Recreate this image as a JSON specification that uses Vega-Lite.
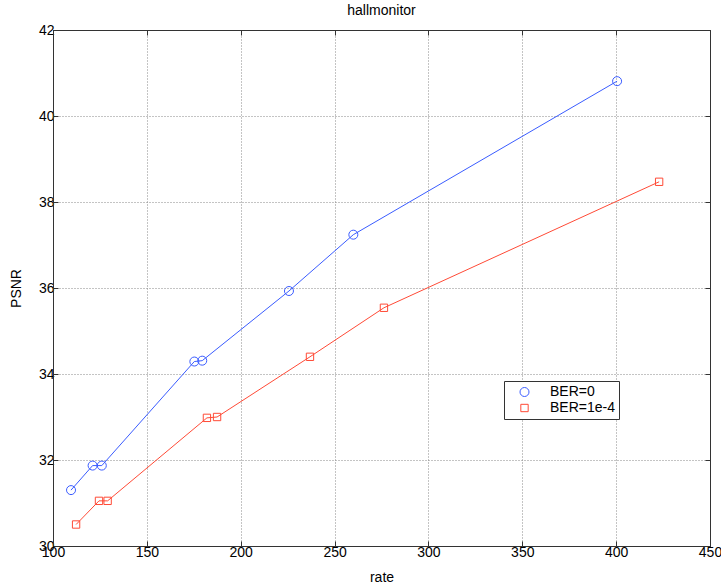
{
  "$schema": "https://vega.github.io/schema/vega-lite/v6.json",
  "width": 657,
  "height": 516,
  "autosize": {"type": "none"},
  "padding": {"left": 53, "top": 30, "right": 11, "bottom": 42},
  "background": "white",
  "title": {
    "text": "hallmonitor",
    "font": "Liberation Sans",
    "fontSize": 14,
    "fontWeight": "normal",
    "color": "#000000",
    "anchor": "middle",
    "offset": 5
  },
  "data": {
    "values": [
      {"series": "BER=0", "rate": 109.6, "psnr": 31.30},
      {"series": "BER=0", "rate": 121.1, "psnr": 31.87},
      {"series": "BER=0", "rate": 126.0, "psnr": 31.87},
      {"series": "BER=0", "rate": 175.3, "psnr": 34.29},
      {"series": "BER=0", "rate": 179.5, "psnr": 34.31},
      {"series": "BER=0", "rate": 225.7, "psnr": 35.93},
      {"series": "BER=0", "rate": 260.0, "psnr": 37.24},
      {"series": "BER=0", "rate": 400.5, "psnr": 40.81},
      {"series": "BER=1e-4", "rate": 112.3, "psnr": 30.50},
      {"series": "BER=1e-4", "rate": 124.5, "psnr": 31.05},
      {"series": "BER=1e-4", "rate": 129.1, "psnr": 31.05},
      {"series": "BER=1e-4", "rate": 182.0, "psnr": 32.98},
      {"series": "BER=1e-4", "rate": 187.4, "psnr": 33.00},
      {"series": "BER=1e-4", "rate": 236.9, "psnr": 34.40},
      {"series": "BER=1e-4", "rate": 276.3, "psnr": 35.54},
      {"series": "BER=1e-4", "rate": 422.9, "psnr": 38.47}
    ]
  },
  "config": {
    "view": {"stroke": "#333333", "strokeWidth": 1},
    "axis": {
      "labelFont": "Liberation Sans",
      "labelFontSize": 14,
      "labelColor": "#000000",
      "labelFlush": false,
      "labelOverlap": false,
      "titleFont": "Liberation Sans",
      "titleFontSize": 14,
      "titleFontWeight": "normal",
      "titleColor": "#000000",
      "domainColor": "#333333",
      "tickColor": "#333333",
      "tickSize": -5,
      "gridColor": "#888888",
      "gridDash": [1, 2],
      "gridWidth": 1,
      "gridOpacity": 1
    },
    "legend": {
      "labelFont": "Liberation Sans",
      "labelFontSize": 14,
      "labelColor": "#000000"
    }
  },
  "layer": [
    {
      "mark": {"type": "point", "filled": false, "strokeWidth": 1, "opacity": 1},
      "encoding": {
        "x": {
          "field": "rate",
          "type": "quantitative",
          "scale": {"domain": [100, 450], "nice": false, "zero": false},
          "axis": {"values": [100, 150, 200, 250, 300, 350, 400, 450], "title": "rate", "grid": true, "labelPadding": 4, "titlePadding": 11}
        },
        "y": {
          "field": "psnr",
          "type": "quantitative",
          "scale": {"domain": [30, 42], "nice": false, "zero": false},
          "axis": {"values": [30, 32, 34, 36, 38, 40, 42], "title": "PSNR", "grid": true, "labelPadding": 4, "titlePadding": 15}
        },
        "color": {
          "field": "series",
          "type": "nominal",
          "title": null,
          "scale": {"domain": ["BER=0", "BER=1e-4"], "range": ["#3a5cff", "#ff4a36"]},
          "legend": {
            "orient": "none",
            "legendX": 451,
            "legendY": 351,
            "fillColor": "white",
            "strokeColor": "#333333",
            "padding": 4,
            "rowPadding": 2,
            "symbolSize": 81,
            "symbolOffset": 9.5,
            "labelOffset": 18.5,
            "symbolStrokeWidth": 1,
            "encode": {
              "symbols": {
                "shape": {
                  "condition": {"test": "datum.value === 'BER=0'", "value": "M-3.1,0H3.1M0.9,0A0.9,0.9 0 1,1 -0.9,0A0.9,0.9 0 1,1 0.9,0"},
                  "value": "M-3.1,0H3.1M-0.8,-0.8H0.8V0.8H-0.8Z"
                }
              }
            }
          }
        },
        "shape": {
          "field": "series",
          "type": "nominal",
          "scale": {"domain": ["BER=0", "BER=1e-4"], "range": ["circle", "square"]},
          "legend": null
        },
        "size": {
          "field": "series",
          "type": "nominal",
          "scale": {"domain": ["BER=0", "BER=1e-4"], "range": [81, 54]},
          "legend": null
        }
      }
    },
    {
      "mark": {"type": "line", "strokeWidth": 1},
      "encoding": {
        "x": {
          "field": "rate",
          "type": "quantitative",
          "axis": {"orient": "top", "values": [100, 150, 200, 250, 300, 350, 400, 450], "labels": false, "grid": false, "title": null}
        },
        "y": {
          "field": "psnr",
          "type": "quantitative",
          "axis": {"orient": "right", "values": [30, 32, 34, 36, 38, 40, 42], "labels": false, "grid": false, "title": null}
        },
        "color": {
          "field": "series",
          "type": "nominal",
          "title": null
        }
      }
    }
  ],
  "resolve": {"axis": {"x": "independent", "y": "independent"}}
}
